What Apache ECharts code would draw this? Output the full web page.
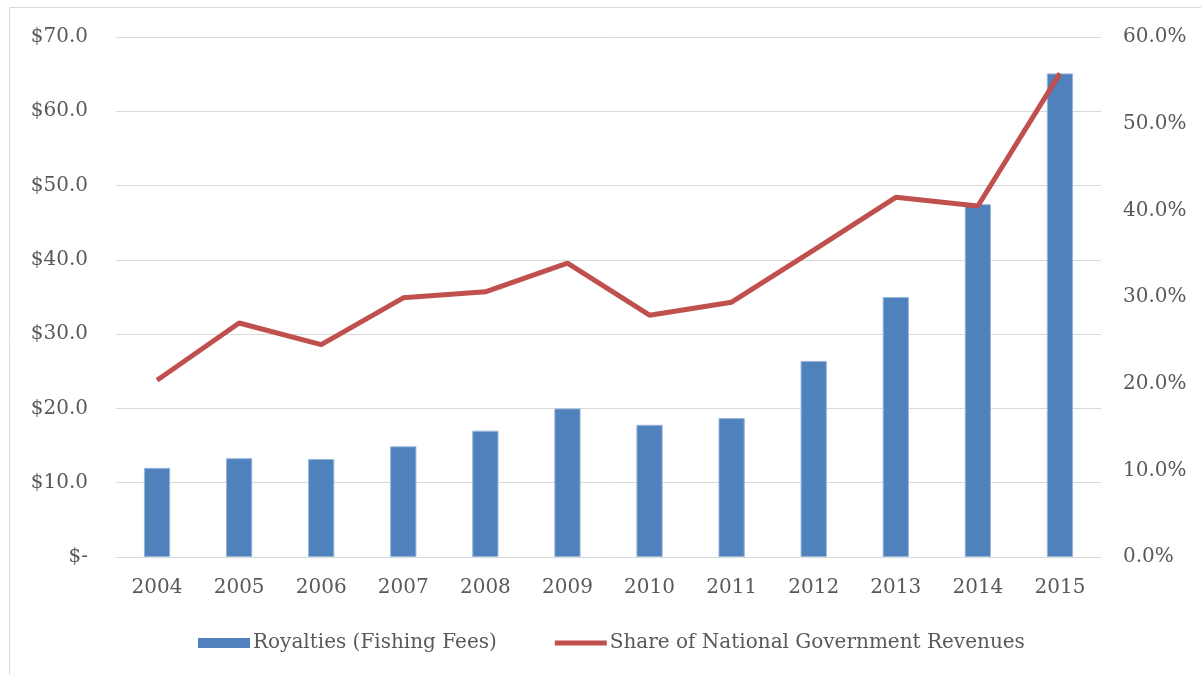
<!DOCTYPE html>
<html><head><meta charset="utf-8">
<script src="https://cdn.jsdelivr.net/npm/echarts@6/dist/echarts.min.js"></script>
<style>html,body{margin:0;padding:0;background:#fff}#c{width:1201px;height:675px}</style>
</head><body><div id="c"></div>
<script>
const years = ['2004','2005','2006','2007','2008','2009','2010','2011','2012','2013','2014','2015'];
const royalties = [12.0, 13.3, 13.2, 14.9, 17.0, 20.0, 17.8, 18.7, 26.4, 35.0, 47.5, 65.1];
const sharePct = [20.4, 27.0, 24.5, 29.9, 30.6, 33.9, 27.9, 29.4, 35.4, 41.5, 40.5, 55.8];
const seriesNames = ['Royalties (Fishing Fees)', 'Share of National Government Revenues'];

const FONT = 'DejaVu Serif';
const TXT = '#595959';
const chart = echarts.init(document.getElementById('c'), null, {renderer:'canvas'});
chart.setOption({
  animation:false,
  backgroundColor:'#fff',
  graphic:[{type:'rect', shape:{x:9.5,y:7.5,width:1200,height:680}, style:{fill:'none',stroke:'#d9d9d9',lineWidth:1}, silent:true}],
  grid:{left:116, right:100, top:37, bottom:118},
  legend:{
    top:628, left:193, itemGap:58,
    textStyle:{fontFamily:FONT, fontSize:20, color:TXT, padding:[0,0,0,-2]},
    data:[
      {name:seriesNames[0], icon:'rect', itemStyle:{color:'#4F81BD', borderWidth:0}},
      {name:seriesNames[1], icon:'path://M0,0 L10,0 L10,1 L0,1 Z', itemStyle:{color:'#C0504D', borderWidth:0}}
    ],
    itemWidth:52, itemHeight:10
  },
  xAxis:{
    type:'category', data:years,
    axisLine:{lineStyle:{color:'#d9d9d9', width:1}},
    axisTick:{show:false},
    axisLabel:{fontFamily:FONT, fontSize:20, color:TXT, margin:21}
  },
  yAxis:[
    {type:'value', min:0, max:70, interval:10,
     axisLine:{show:false}, axisTick:{show:false},
     splitLine:{lineStyle:{color:'#d9d9d9', width:1}},
     axisLabel:{fontFamily:FONT, fontSize:20, color:TXT, margin:28,
       formatter:v => v===0 ? '$-' : '$'+v.toFixed(1)}},
    {type:'value', min:0, max:60, interval:10,
     axisLine:{show:false}, axisTick:{show:false}, splitLine:{show:false},
     axisLabel:{fontFamily:FONT, fontSize:20, color:TXT, margin:22,
       formatter:v => v.toFixed(1)+'%'}}
  ],
  series:[
    {name:seriesNames[0], type:'bar', data:royalties, yAxisIndex:0, barWidth:'32%',
     itemStyle:{color:'#4F81BD', borderColor:'#9ab6da', borderWidth:1}},
    {name:seriesNames[1], type:'line', data:sharePct, yAxisIndex:1, symbol:'none',
     lineStyle:{color:'#C0504D', width:5}, itemStyle:{color:'#C0504D'}}
  ]
});
</script></body></html>
